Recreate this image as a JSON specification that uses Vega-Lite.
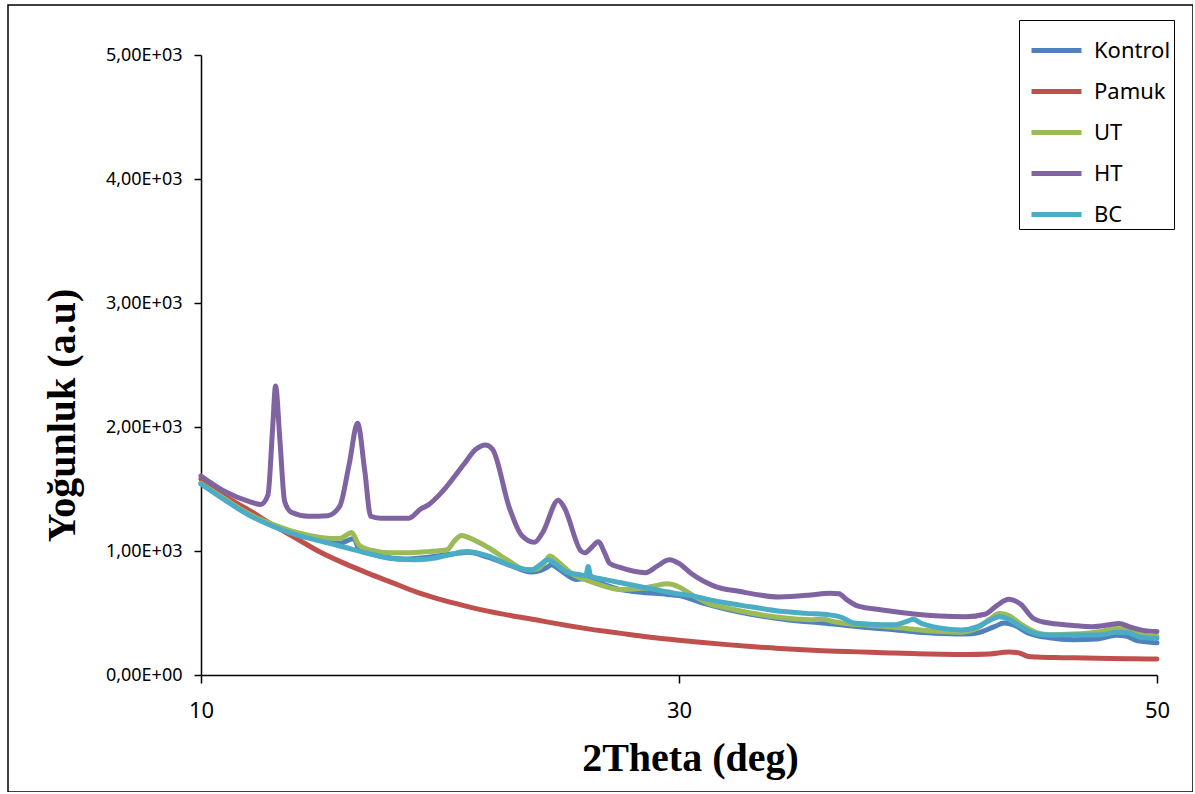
{
  "$schema": "https://vega.github.io/schema/vega-lite/v6.json",
  "width": 1185,
  "height": 787,
  "autosize": {"type": "none"},
  "padding": {"left": 8, "top": 5, "right": 0, "bottom": 0},
  "background": "white",
  "config": {
    "view": {"stroke": "black", "strokeWidth": 1.5},
    "axis": {"grid": false, "domainColor": "black", "tickColor": "black", "labelColor": "black", "titleColor": "black", "domainWidth": 1.5, "tickWidth": 1.5}
  },
  "datasets": {
    "xrd": [
      {"s":"Kontrol","x":10,"y":1545},{"s":"Kontrol","x":11,"y":1420},{"s":"Kontrol","x":12,"y":1300},{"s":"Kontrol","x":13,"y":1210},{"s":"Kontrol","x":14,"y":1140},{"s":"Kontrol","x":15,"y":1090},{"s":"Kontrol","x":15.8,"y":1060},{"s":"Kontrol","x":16.2,"y":1090},{"s":"Kontrol","x":16.4,"y":1100},{"s":"Kontrol","x":16.6,"y":1020},{"s":"Kontrol","x":17.5,"y":960},{"s":"Kontrol","x":18.5,"y":935},{"s":"Kontrol","x":19.5,"y":950},{"s":"Kontrol","x":20.5,"y":975},{"s":"Kontrol","x":21.2,"y":990},{"s":"Kontrol","x":22,"y":950},{"s":"Kontrol","x":23,"y":880},{"s":"Kontrol","x":23.8,"y":830},{"s":"Kontrol","x":24.5,"y":870},{"s":"Kontrol","x":24.65,"y":890},{"s":"Kontrol","x":25,"y":850},{"s":"Kontrol","x":25.7,"y":770},{"s":"Kontrol","x":26.2,"y":780},{"s":"Kontrol","x":26.5,"y":760},{"s":"Kontrol","x":27,"y":720},{"s":"Kontrol","x":27.5,"y":690},{"s":"Kontrol","x":28.3,"y":670},{"s":"Kontrol","x":29.5,"y":650},{"s":"Kontrol","x":30,"y":640},{"s":"Kontrol","x":31,"y":580},{"s":"Kontrol","x":32,"y":530},{"s":"Kontrol","x":33,"y":490},{"s":"Kontrol","x":34,"y":460},{"s":"Kontrol","x":35,"y":435},{"s":"Kontrol","x":36,"y":420},{"s":"Kontrol","x":37,"y":400},{"s":"Kontrol","x":38,"y":380},{"s":"Kontrol","x":39,"y":365},{"s":"Kontrol","x":40,"y":345},{"s":"Kontrol","x":41,"y":335},{"s":"Kontrol","x":42,"y":330},{"s":"Kontrol","x":42.5,"y":340},{"s":"Kontrol","x":43.2,"y":390},{"s":"Kontrol","x":43.6,"y":420},{"s":"Kontrol","x":44,"y":405},{"s":"Kontrol","x":44.6,"y":340},{"s":"Kontrol","x":45.5,"y":300},{"s":"Kontrol","x":46.5,"y":285},{"s":"Kontrol","x":47.5,"y":290},{"s":"Kontrol","x":48.3,"y":320},{"s":"Kontrol","x":48.7,"y":315},{"s":"Kontrol","x":49.2,"y":275},{"s":"Kontrol","x":50,"y":260},

      {"s":"Pamuk","x":10,"y":1580},{"s":"Pamuk","x":11,"y":1440},{"s":"Pamuk","x":12,"y":1330},{"s":"Pamuk","x":13,"y":1210},{"s":"Pamuk","x":14,"y":1100},{"s":"Pamuk","x":15,"y":990},{"s":"Pamuk","x":16,"y":900},{"s":"Pamuk","x":17,"y":820},{"s":"Pamuk","x":18,"y":745},{"s":"Pamuk","x":19,"y":670},{"s":"Pamuk","x":20,"y":610},{"s":"Pamuk","x":21,"y":560},{"s":"Pamuk","x":22,"y":515},{"s":"Pamuk","x":23,"y":478},{"s":"Pamuk","x":24,"y":445},{"s":"Pamuk","x":25,"y":410},{"s":"Pamuk","x":26,"y":378},{"s":"Pamuk","x":27,"y":350},{"s":"Pamuk","x":28,"y":325},{"s":"Pamuk","x":29,"y":300},{"s":"Pamuk","x":30,"y":280},{"s":"Pamuk","x":31,"y":262},{"s":"Pamuk","x":32,"y":245},{"s":"Pamuk","x":33,"y":230},{"s":"Pamuk","x":34,"y":217},{"s":"Pamuk","x":35,"y":205},{"s":"Pamuk","x":36,"y":196},{"s":"Pamuk","x":37,"y":190},{"s":"Pamuk","x":38,"y":183},{"s":"Pamuk","x":39,"y":177},{"s":"Pamuk","x":40,"y":172},{"s":"Pamuk","x":41,"y":168},{"s":"Pamuk","x":42,"y":166},{"s":"Pamuk","x":43,"y":170},{"s":"Pamuk","x":43.8,"y":185},{"s":"Pamuk","x":44.2,"y":180},{"s":"Pamuk","x":44.6,"y":150},{"s":"Pamuk","x":45,"y":145},{"s":"Pamuk","x":46,"y":140},{"s":"Pamuk","x":47,"y":137},{"s":"Pamuk","x":48,"y":134},{"s":"Pamuk","x":49,"y":131},{"s":"Pamuk","x":50,"y":129},

      {"s":"UT","x":10,"y":1545},{"s":"UT","x":11,"y":1420},{"s":"UT","x":12,"y":1300},{"s":"UT","x":13,"y":1215},{"s":"UT","x":14,"y":1150},{"s":"UT","x":15,"y":1110},{"s":"UT","x":15.8,"y":1100},{"s":"UT","x":16.1,"y":1130},{"s":"UT","x":16.3,"y":1150},{"s":"UT","x":16.6,"y":1050},{"s":"UT","x":17,"y":1010},{"s":"UT","x":18,"y":985},{"s":"UT","x":18.6,"y":985},{"s":"UT","x":19.5,"y":995},{"s":"UT","x":20.3,"y":1010},{"s":"UT","x":20.6,"y":1080},{"s":"UT","x":20.9,"y":1125},{"s":"UT","x":21.3,"y":1100},{"s":"UT","x":22,"y":1030},{"s":"UT","x":22.8,"y":930},{"s":"UT","x":23.6,"y":850},{"s":"UT","x":24,"y":850},{"s":"UT","x":24.35,"y":900},{"s":"UT","x":24.6,"y":960},{"s":"UT","x":24.9,"y":920},{"s":"UT","x":25.5,"y":820},{"s":"UT","x":26.2,"y":760},{"s":"UT","x":26.8,"y":720},{"s":"UT","x":27.5,"y":690},{"s":"UT","x":28.5,"y":700},{"s":"UT","x":29,"y":720},{"s":"UT","x":29.5,"y":735},{"s":"UT","x":30,"y":710},{"s":"UT","x":30.6,"y":640},{"s":"UT","x":31.2,"y":580},{"s":"UT","x":32,"y":540},{"s":"UT","x":33,"y":500},{"s":"UT","x":34,"y":470},{"s":"UT","x":35,"y":450},{"s":"UT","x":35.5,"y":445},{"s":"UT","x":36,"y":450},{"s":"UT","x":36.5,"y":430},{"s":"UT","x":37,"y":415},{"s":"UT","x":38,"y":400},{"s":"UT","x":39,"y":385},{"s":"UT","x":40,"y":365},{"s":"UT","x":41,"y":350},{"s":"UT","x":41.8,"y":345},{"s":"UT","x":42.5,"y":380},{"s":"UT","x":43,"y":450},{"s":"UT","x":43.4,"y":495},{"s":"UT","x":43.8,"y":480},{"s":"UT","x":44.3,"y":410},{"s":"UT","x":45,"y":340},{"s":"UT","x":45.5,"y":325},{"s":"UT","x":46.5,"y":330},{"s":"UT","x":47.6,"y":350},{"s":"UT","x":48.3,"y":376},{"s":"UT","x":48.8,"y":360},{"s":"UT","x":49.3,"y":325},{"s":"UT","x":50,"y":310},

      {"s":"HT","x":10,"y":1605},{"s":"HT","x":11,"y":1480},{"s":"HT","x":12,"y":1400},{"s":"HT","x":12.5,"y":1375},{"s":"HT","x":12.8,"y":1450},{"s":"HT","x":13,"y":2000},{"s":"HT","x":13.12,"y":2330},{"s":"HT","x":13.3,"y":1900},{"s":"HT","x":13.5,"y":1400},{"s":"HT","x":13.8,"y":1310},{"s":"HT","x":14.5,"y":1280},{"s":"HT","x":15.3,"y":1285},{"s":"HT","x":15.8,"y":1360},{"s":"HT","x":16.2,"y":1700},{"s":"HT","x":16.55,"y":2030},{"s":"HT","x":16.85,"y":1650},{"s":"HT","x":17.1,"y":1280},{"s":"HT","x":17.5,"y":1265},{"s":"HT","x":18.7,"y":1265},{"s":"HT","x":19.2,"y":1340},{"s":"HT","x":19.5,"y":1370},{"s":"HT","x":20.1,"y":1480},{"s":"HT","x":21,"y":1700},{"s":"HT","x":21.5,"y":1820},{"s":"HT","x":21.9,"y":1855},{"s":"HT","x":22.2,"y":1820},{"s":"HT","x":22.9,"y":1350},{"s":"HT","x":23.4,"y":1130},{"s":"HT","x":23.95,"y":1070},{"s":"HT","x":24.3,"y":1150},{"s":"HT","x":24.95,"y":1410},{"s":"HT","x":25.2,"y":1350},{"s":"HT","x":25.9,"y":1000},{"s":"HT","x":26.05,"y":985},{"s":"HT","x":26.35,"y":1030},{"s":"HT","x":26.62,"y":1075},{"s":"HT","x":26.9,"y":980},{"s":"HT","x":27.1,"y":900},{"s":"HT","x":27.5,"y":870},{"s":"HT","x":28.6,"y":825},{"s":"HT","x":29.1,"y":880},{"s":"HT","x":29.6,"y":930},{"s":"HT","x":30,"y":900},{"s":"HT","x":30.5,"y":820},{"s":"HT","x":31.5,"y":715},{"s":"HT","x":32.5,"y":675},{"s":"HT","x":34.2,"y":630},{"s":"HT","x":35.5,"y":645},{"s":"HT","x":36.3,"y":660},{"s":"HT","x":36.7,"y":655},{"s":"HT","x":37,"y":610},{"s":"HT","x":37.5,"y":555},{"s":"HT","x":38.5,"y":525},{"s":"HT","x":40.9,"y":476},{"s":"HT","x":42,"y":470},{"s":"HT","x":42.8,"y":490},{"s":"HT","x":43.3,"y":560},{"s":"HT","x":43.8,"y":610},{"s":"HT","x":44.3,"y":570},{"s":"HT","x":44.8,"y":460},{"s":"HT","x":45.3,"y":425},{"s":"HT","x":46.5,"y":400},{"s":"HT","x":47.3,"y":390},{"s":"HT","x":48,"y":405},{"s":"HT","x":48.4,"y":415},{"s":"HT","x":48.9,"y":385},{"s":"HT","x":49.4,"y":360},{"s":"HT","x":50,"y":350},

      {"s":"BC","x":10,"y":1540},{"s":"BC","x":11,"y":1410},{"s":"BC","x":12,"y":1290},{"s":"BC","x":13,"y":1200},{"s":"BC","x":14,"y":1130},{"s":"BC","x":15,"y":1080},{"s":"BC","x":16,"y":1030},{"s":"BC","x":17,"y":980},{"s":"BC","x":18,"y":940},{"s":"BC","x":19,"y":930},{"s":"BC","x":19.5,"y":935},{"s":"BC","x":20.3,"y":965},{"s":"BC","x":21.1,"y":995},{"s":"BC","x":22,"y":960},{"s":"BC","x":23,"y":880},{"s":"BC","x":23.8,"y":845},{"s":"BC","x":24.2,"y":890},{"s":"BC","x":24.5,"y":930},{"s":"BC","x":24.8,"y":900},{"s":"BC","x":25.3,"y":830},{"s":"BC","x":25.8,"y":810},{"s":"BC","x":26.1,"y":800},{"s":"BC","x":26.2,"y":875},{"s":"BC","x":26.3,"y":800},{"s":"BC","x":26.6,"y":780},{"s":"BC","x":27,"y":765},{"s":"BC","x":28.4,"y":712},{"s":"BC","x":29.8,"y":660},{"s":"BC","x":30.5,"y":640},{"s":"BC","x":31.2,"y":610},{"s":"BC","x":32,"y":580},{"s":"BC","x":33,"y":550},{"s":"BC","x":34,"y":520},{"s":"BC","x":35.3,"y":497},{"s":"BC","x":36.3,"y":485},{"s":"BC","x":36.8,"y":465},{"s":"BC","x":37.3,"y":420},{"s":"BC","x":38,"y":410},{"s":"BC","x":39,"y":405},{"s":"BC","x":39.5,"y":430},{"s":"BC","x":39.8,"y":449},{"s":"BC","x":40.1,"y":420},{"s":"BC","x":40.9,"y":380},{"s":"BC","x":41.8,"y":363},{"s":"BC","x":42.5,"y":390},{"s":"BC","x":43,"y":440},{"s":"BC","x":43.4,"y":470},{"s":"BC","x":43.8,"y":450},{"s":"BC","x":44.3,"y":390},{"s":"BC","x":45,"y":330},{"s":"BC","x":45.5,"y":323},{"s":"BC","x":47.6,"y":323},{"s":"BC","x":48.3,"y":345},{"s":"BC","x":48.8,"y":340},{"s":"BC","x":49.3,"y":305},{"s":"BC","x":50,"y":296}
    ]
  },
  "data": {"name": "xrd"},
  "mark": {"type": "line", "interpolate": "monotone", "strokeWidth": 5, "strokeCap": "round", "strokeJoin": "round"},
  "encoding": {
    "x": {
      "field": "x", "type": "quantitative",
      "scale": {"domain": [10, 50], "range": [193, 1149], "nice": false, "zero": false},
      "axis": {
        "values": [10, 30, 50], "format": "d", "offset": -117,
        "tickSize": 8, "labelPadding": 17, "labelFont": "Noto Sans", "labelFontSize": 22, "labelFlush": false,
        "title": "2Theta (deg)", "titleFont": "Liberation Serif", "titleFontSize": 40, "titleFontWeight": "bold",
        "titleX": 682, "titleY": 95, "titleBaseline": "alphabetic", "titleAlign": "center"
      }
    },
    "y": {
      "field": "y", "type": "quantitative",
      "scale": {"domain": [0, 5000], "range": [670, 50], "nice": false, "zero": false},
      "axis": {
        "values": [0, 1000, 2000, 3000, 4000, 5000], "offset": -193,
        "labelExpr": "replace(format(datum.value/1000, '.2f'), '.', ',') + (datum.value == 0 ? 'E+00' : 'E+03')",
        "tickSize": 7, "labelPadding": 12, "labelFont": "Noto Sans", "labelFontSize": 18, "labelFlush": false,
        "title": "Yoğunluk (a.u)", "titleFont": "Liberation Serif", "titleFontSize": 40, "titleFontWeight": "bold",
        "titleAngle": 270, "titleX": -127, "titleY": 410, "titleBaseline": "alphabetic", "titleAlign": "center"
      }
    },
    "color": {
      "field": "s", "type": "nominal",
      "scale": {"domain": ["Kontrol", "Pamuk", "UT", "HT", "BC"], "range": ["#4F81BD", "#C0504D", "#9BBB59", "#8064A2", "#4BACC6"]},
      "legend": {
        "orient": "none", "legendX": 1011, "legendY": 15, "title": null,
        "symbolType": "stroke", "symbolStrokeWidth": 5, "symbolSize": 2500, "symbolOffset": 7,
        "rowPadding": 2, "labelFont": "Noto Sans", "labelFontSize": 22, "labelColor": "black", "labelOffset": 10,
        "padding": 3, "strokeColor": "black", "fillColor": "white"
      }
    }
  }
}
